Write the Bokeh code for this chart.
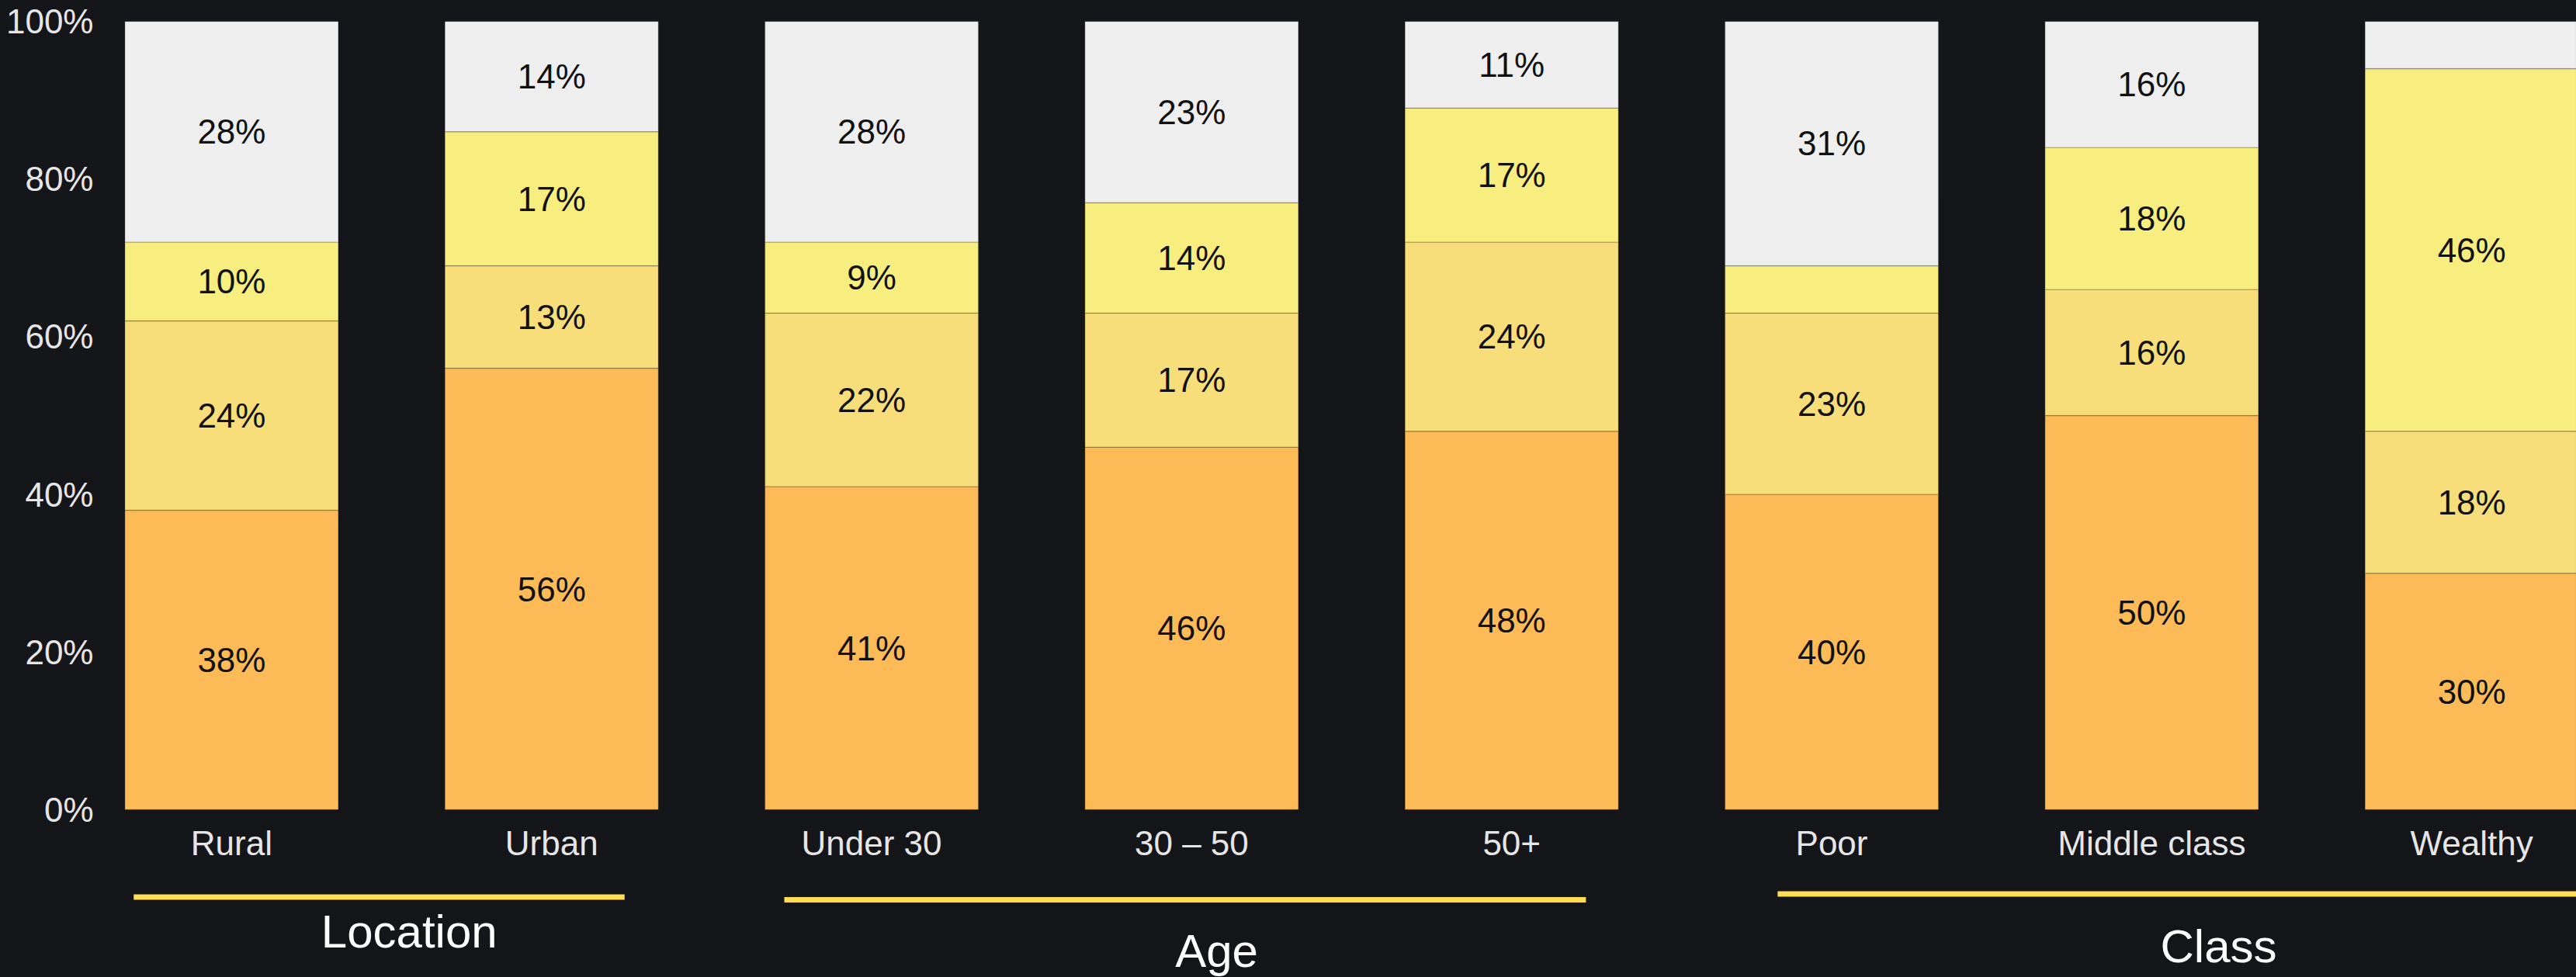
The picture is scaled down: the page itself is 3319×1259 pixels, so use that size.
from bokeh.plotting import figure
from bokeh.layouts import column
from bokeh.models import Range1d, FixedTicker, ColumnDataSource, NumeralTickFormatter
from bokeh.core.properties import value
from bokeh.embed import file_html
from bokeh.resources import INLINE

# ---- data ----
categories = ["Rural", "Urban", "Under 30", "30 \u2013 50", "50+", "Poor", "Middle class", "Wealthy"]
s1 = [38, 56, 41, 46, 48, 40, 50, 30]
s2 = [24, 13, 22, 17, 24, 23, 16, 18]
s3 = [10, 17, 9, 14, 17, 6, 18, 46]
s4 = [28, 14, 28, 23, 11, 31, 16, 6]
labels_shown = [
    [True] * 8,
    [True] * 8,
    [True, True, True, True, True, False, True, True],
    [True, True, True, True, True, True, True, False],
]
groups = ["Location", "Age", "Class"]
group_members = [[0, 1], [2, 3, 4], [5, 6, 7]]
y_ticks = [0, 0.2, 0.4, 0.6, 0.8, 1.0]

# ---- style ----
BG = "#141519"
colors = ["#FDBB58", "#F8DE7A", "#F8EE80", "#EFEFEF"]
FONT = "Liberation Sans"
W = 3319
XR = Range1d(-0.383, 7.327)

p = figure(width=W, height=1120, output_backend="svg", toolbar_location=None,
           x_range=XR, y_range=Range1d(0, 1),
           background_fill_color=BG, border_fill_color=BG, outline_line_color=None,
           min_border_left=140, min_border_right=0, min_border_top=27, min_border_bottom=77)
p.grid.visible = False

xs = list(range(len(categories)))
series = [s1, s2, s3, s4]
bottom = [0.0] * len(categories)
for k, s in enumerate(series):
    top = [b + v / 100.0 for b, v in zip(bottom, s)]
    mid = [(b + t) / 2 for b, t in zip(bottom, top)]
    src = ColumnDataSource(dict(x=xs, bottom=bottom, top=top, mid=mid,
                                lab=[f"{v}%" if show else "" for v, show in zip(s, labels_shown[k])]))
    p.vbar(x="x", bottom="bottom", top="top", width=0.667, source=src,
           fill_color=colors[k], line_color="black", line_alpha=0.18, line_width=1.5)
    p.text(x="x", y="mid", text="lab", source=src, text_align="center", text_baseline="middle",
           text_font=value(FONT), text_font_size="44px", text_color="#111111")
    bottom = top

# axes
p.xaxis.ticker = FixedTicker(ticks=xs)
p.xaxis.major_label_overrides = {i: c for i, c in enumerate(categories)}
p.yaxis.ticker = FixedTicker(ticks=y_ticks)
p.yaxis.formatter = NumeralTickFormatter(format="0%")
for ax in (p.xaxis, p.yaxis):
    ax.axis_line_color = None
    ax.major_tick_line_color = None
    ax.minor_tick_line_color = None
    ax.major_label_text_font = FONT
    ax.major_label_text_font_size = "44px"
    ax.major_label_text_color = "#E6E6E6"
p.xaxis.major_label_standoff = 12
p.yaxis.major_label_standoff = 14

# ---- group underline strip ----
QH = 139
q = figure(width=W, height=QH, output_backend="svg", toolbar_location=None,
           x_range=XR, y_range=Range1d(0, QH), x_axis_type=None, y_axis_type=None,
           background_fill_color=BG, border_fill_color=BG, outline_line_color=None,
           min_border_left=140, min_border_right=0, min_border_top=0, min_border_bottom=0)
q.grid.visible = False

pad_l = [0.306, 0.273, 0.169]
pad_r = [0.228, 0.232, 0.7]
line_y = [103.5, 100.0, 107.5]
text_y = [59.5, 34.0, 40.5]
text_dx = [0.055, 0.078, 0.209]
x0 = [m[0] - pl for m, pl in zip(group_members, pad_l)]
x1 = [m[-1] + pr for m, pr in zip(group_members, pad_r)]
tx = [(m[0] + m[-1]) / 2 + d for m, d in zip(group_members, text_dx)]
gsrc = ColumnDataSource(dict(x0=x0, x1=x1, ly=line_y, tx=tx, ty=text_y, name=groups))
q.segment(x0="x0", y0="ly", x1="x1", y1="ly", source=gsrc, line_color="#FFDD55", line_width=7)
q.text(x="tx", y="ty", text="name", source=gsrc, text_align="center", text_baseline="middle",
       text_font=value(FONT), text_font_size="60px", text_color="#FFFFFF")

layout = column(p, q, spacing=0, styles={"background-color": BG})
open("out.html", "w").write(file_html(layout, INLINE))
